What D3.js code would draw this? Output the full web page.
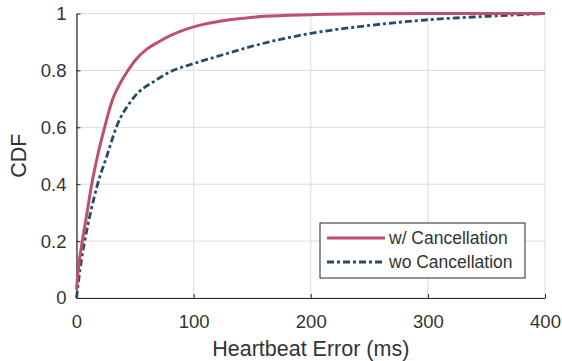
<!DOCTYPE html>
<html>
<head>
<meta charset="utf-8">
<script src="https://cdn.jsdelivr.net/npm/d3@7"></script>
<style>
  body { margin: 0; background: #fff; }
  svg { display: block; font-family: "Liberation Sans", Arial, sans-serif; }
</style>
</head>
<body>
<div id="chart"></div>
<script>
// error (ms) -> CDF
var withX = [0, 1.5, 5, 9, 13, 18, 24, 31, 38, 44, 50, 60, 70, 80, 100, 120, 140, 160, 200, 250, 300, 400];
var withY = [0.03, 0.1, 0.2, 0.3, 0.4, 0.5, 0.6, 0.7, 0.76, 0.8, 0.835, 0.875, 0.9, 0.922, 0.953, 0.971, 0.982, 0.99, 0.996, 0.999, 1, 1];
var woX = [0, 3, 7, 12, 18, 26, 34, 48, 68, 80, 100, 125, 150, 175, 200, 250, 300, 350, 400];
var woY = [0, 0.1, 0.2, 0.3, 0.4, 0.5, 0.6, 0.7, 0.766, 0.795, 0.824, 0.855, 0.885, 0.91, 0.93, 0.958, 0.978, 0.99, 1];
var xTicks = [0, 100, 200, 300, 400];
var yTicks = [0, 0.2, 0.4, 0.6, 0.8, 1];
var seriesNames = ["w/ Cancellation", "wo Cancellation"];

var width = 562, height = 361;
var margin = {top: 13.5, right: 17, bottom: 63, left: 76.5};

var svg = d3.select("#chart").append("svg")
    .attr("width", width)
    .attr("height", height);

var x = d3.scaleLinear().domain([0, 400]).range([margin.left, width - margin.right]);
var y = d3.scaleLinear().domain([0, 1]).range([height - margin.bottom, margin.top]);

// grid
svg.append("g").selectAll("line")
  .data(xTicks)
  .join("line")
    .attr("x1", d => x(d)).attr("x2", d => x(d))
    .attr("y1", y(0)).attr("y2", y(1))
    .attr("stroke", "#dcdcdc").attr("stroke-width", 1);
svg.append("g").selectAll("line")
  .data(yTicks)
  .join("line")
    .attr("x1", x(0)).attr("x2", x(400))
    .attr("y1", d => y(d)).attr("y2", d => y(d))
    .attr("stroke", "#dcdcdc").attr("stroke-width", 1);

// axes
var xAxis = svg.append("g")
    .attr("transform", `translate(0,${y(0)})`)
    .call(d3.axisBottom(x).tickValues(xTicks).tickFormat(d3.format("d")).tickSizeInner(-4).tickSizeOuter(0).tickPadding(17));
var yAxis = svg.append("g")
    .attr("transform", `translate(${x(0)},0)`)
    .call(d3.axisLeft(y).tickValues(yTicks).tickFormat(d => d === 0 || d === 1 ? d : d3.format(".1f")(d)).tickSizeInner(-4).tickSizeOuter(0).tickPadding(10));

[xAxis, yAxis].forEach(a => {
  a.select(".domain").attr("stroke", "#262626").attr("stroke-width", 1.2);
  a.selectAll(".tick line").attr("stroke", "#262626");
  a.selectAll("text").attr("fill", "#333").attr("font-size", 18.5);
});
xAxis.selectAll("text").attr("dy", "0.71em");

svg.append("text")
    .attr("x", (x(0) + x(400)) / 2)
    .attr("y", 356)
    .attr("text-anchor", "middle")
    .attr("font-size", 21.5)
    .attr("fill", "#333")
    .text("Heartbeat Error (ms)");

svg.append("text")
    .attr("transform", `translate(26,${(y(0) + y(1)) / 2}) rotate(-90)`)
    .attr("text-anchor", "middle")
    .attr("font-size", 21.5)
    .attr("fill", "#333")
    .text("CDF");

// curves
var line = d3.line()
    .x(d => x(d[0]))
    .y(d => y(d[1]))
    .curve(d3.curveMonotoneX);

var styles = [
  {color: "#bd4f6f", width: 3, dash: null},
  {color: "#264c66", width: 2.8, dash: "7,3,3,3"}
];

svg.append("path")
    .datum(d3.zip(woX, woY))
    .attr("d", line)
    .attr("fill", "none")
    .attr("stroke", styles[1].color)
    .attr("stroke-width", styles[1].width)
    .attr("stroke-dasharray", styles[1].dash);

svg.append("path")
    .datum(d3.zip(withX, withY))
    .attr("d", line)
    .attr("fill", "none")
    .attr("stroke", styles[0].color)
    .attr("stroke-width", styles[0].width);

// legend
var lg = svg.append("g").attr("transform", "translate(320,223)");
lg.append("rect")
    .attr("width", 205).attr("height", 55)
    .attr("fill", "#fff").attr("stroke", "#262626").attr("stroke-width", 1);

var item = lg.selectAll("g")
  .data(seriesNames)
  .join("g")
    .attr("transform", (d, i) => `translate(0,${15 + i * 24})`);

item.append("line")
    .attr("x1", 7).attr("x2", 65)
    .attr("stroke", (d, i) => styles[i].color)
    .attr("stroke-width", (d, i) => styles[i].width)
    .attr("stroke-dasharray", (d, i) => styles[i].dash);

item.append("text")
    .attr("x", 69)
    .attr("dy", "0.35em")
    .attr("font-size", 17.5)
    .attr("fill", "#333")
    .text(d => d);
</script>
</body>
</html>
